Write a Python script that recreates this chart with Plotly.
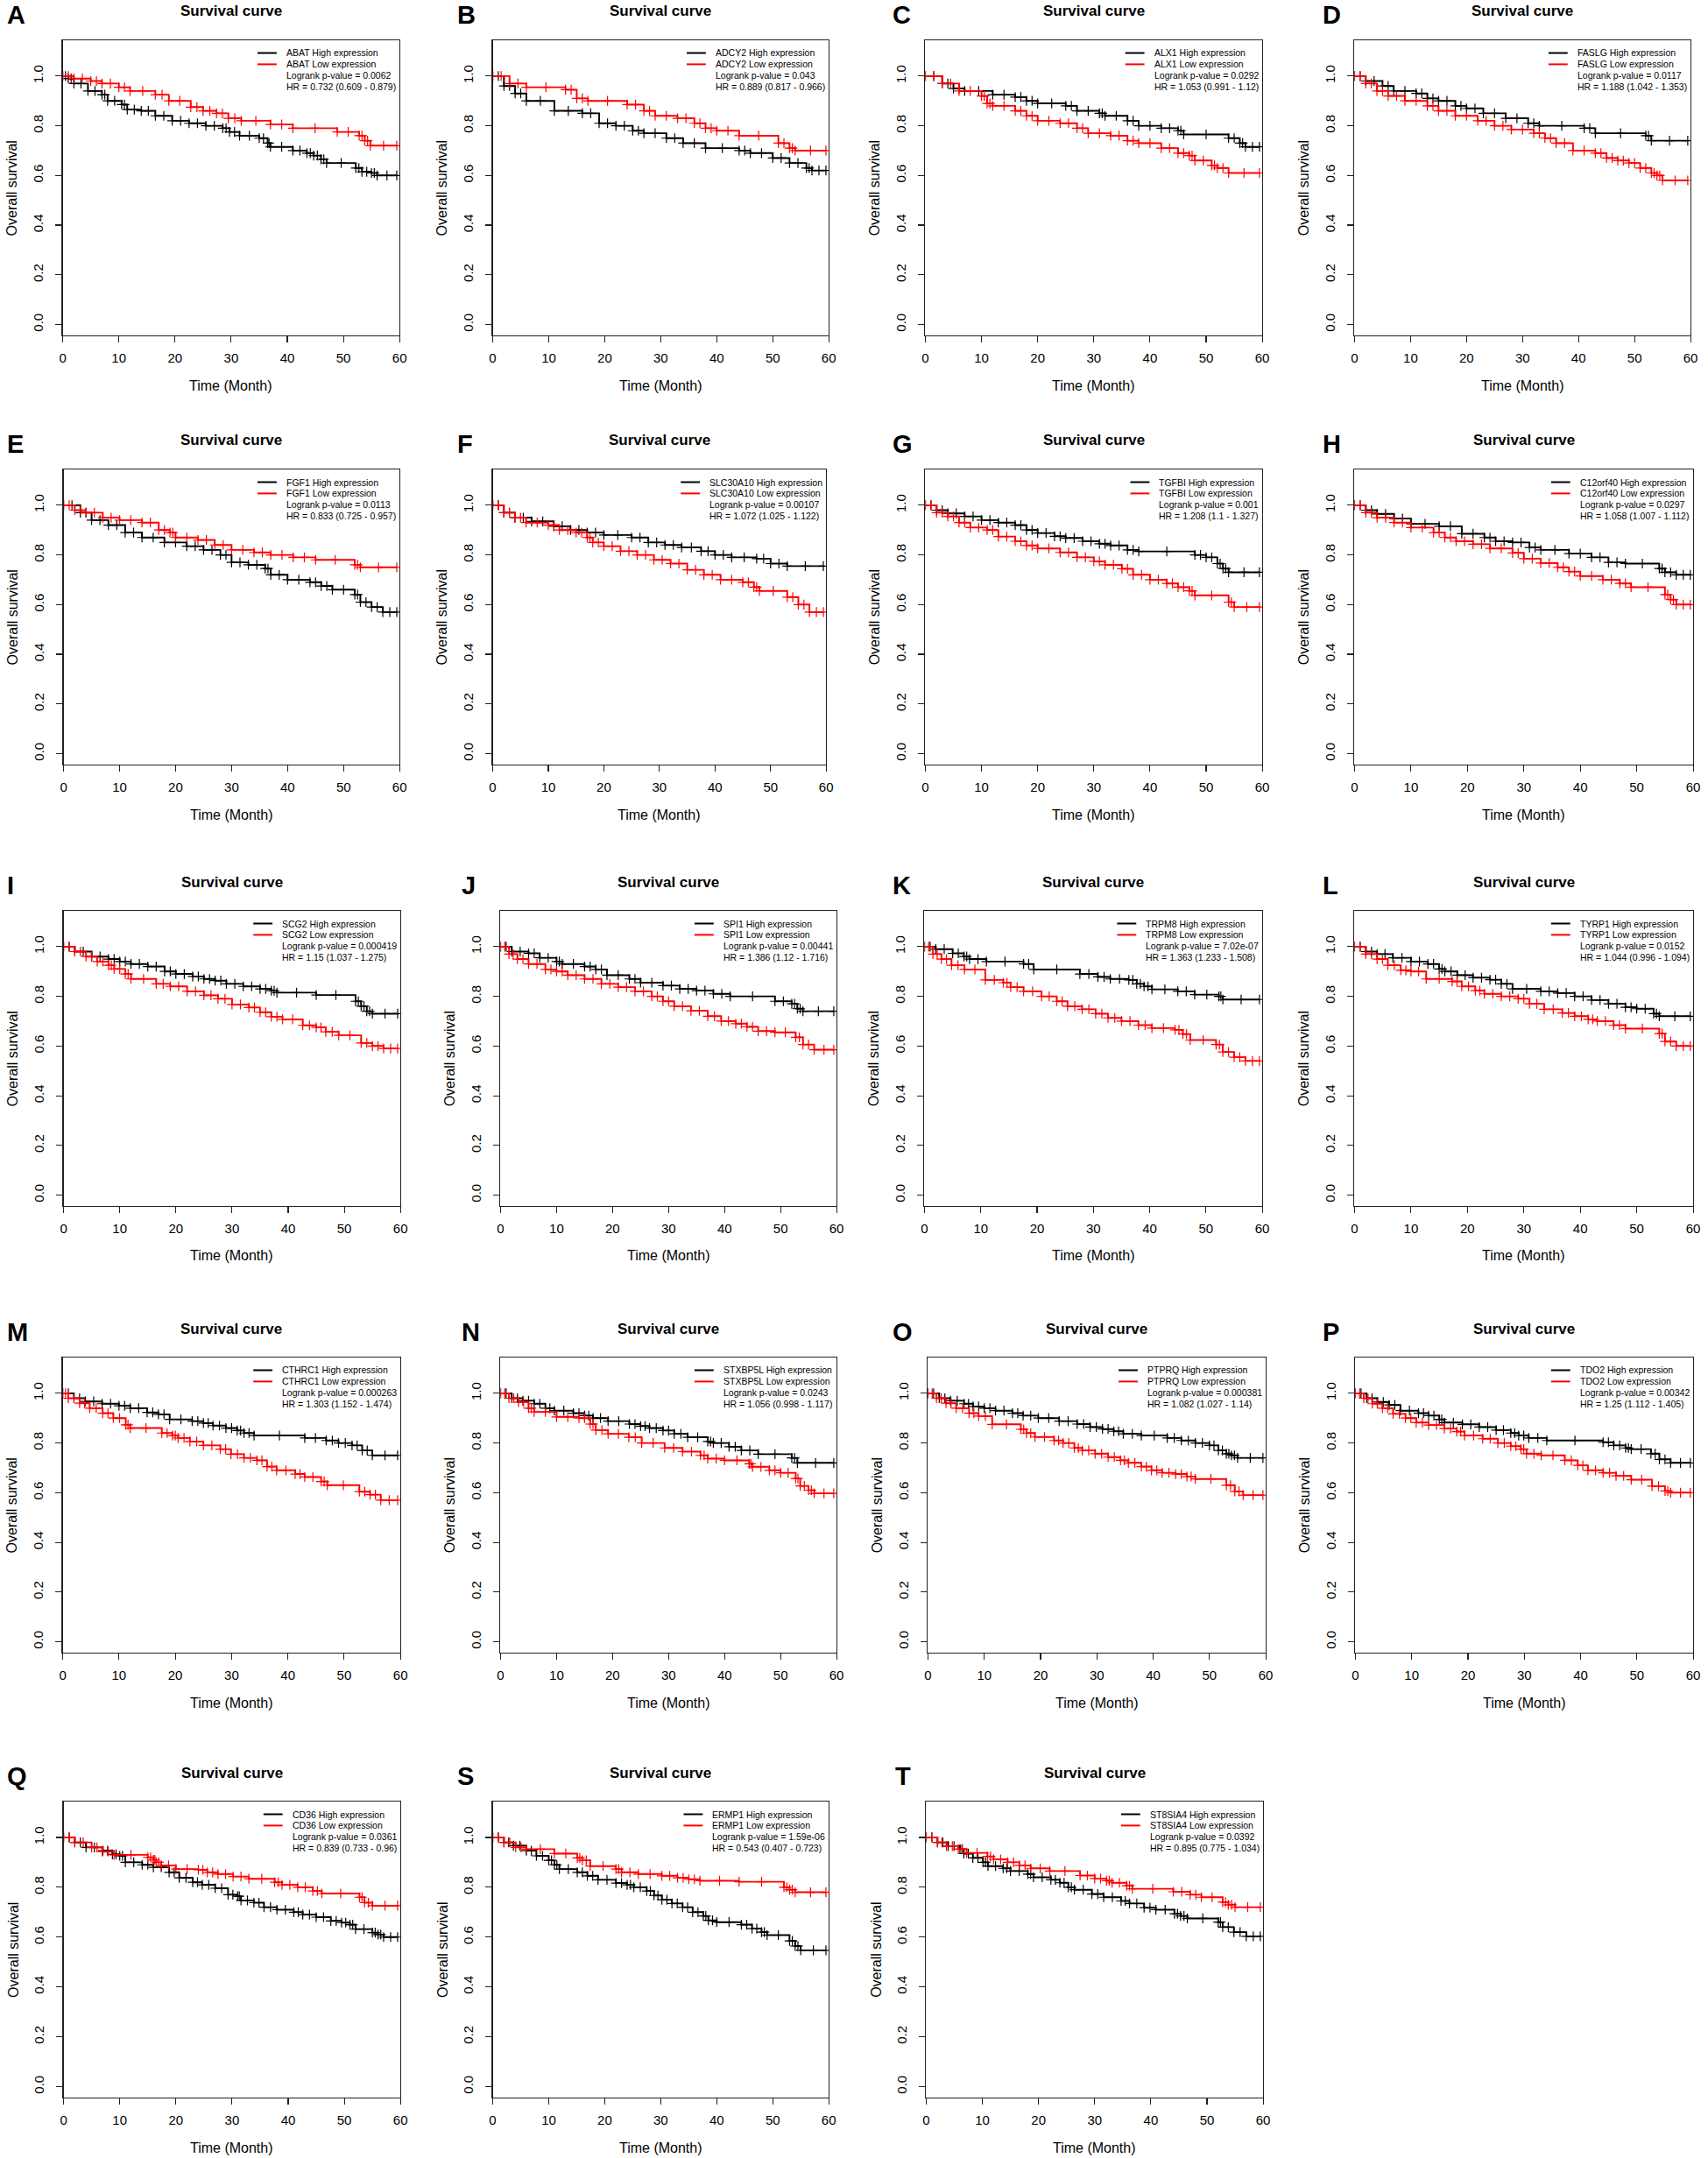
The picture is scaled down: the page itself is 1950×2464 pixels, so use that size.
import plotly.graph_objects as go

W, H = 1950, 2464

# ---------------- data ----------------
letters = ["A", "B", "C", "D", "E", "F", "G", "H", "I", "J", "K", "L",
           "M", "N", "O", "P", "Q", "S", "T"]
genes = ["ABAT", "ADCY2", "ALX1", "FASLG", "FGF1", "SLC30A10", "TGFBI", "C12orf40",
         "SCG2", "SPI1", "TRPM8", "TYRP1", "CTHRC1", "STXBP5L", "PTPRQ", "TDO2",
         "CD36", "ERMP1", "ST8SIA4"]
pvalues = ["0.0062", "0.043", "0.0292", "0.0117", "0.0113", "0.00107", "0.001", "0.0297",
           "0.000419", "0.00441", "7.02e-07", "0.0152", "0.000263", "0.0243", "0.000381",
           "0.00342", "0.0361", "1.59e-06", "0.0392"]
hrs = ["0.732 (0.609 - 0.879)", "0.889 (0.817 - 0.966)", "1.053 (0.991 - 1.12)",
       "1.188 (1.042 - 1.353)", "0.833 (0.725 - 0.957)", "1.072 (1.025 - 1.122)",
       "1.208 (1.1 - 1.327)", "1.058 (1.007 - 1.112)", "1.15 (1.037 - 1.275)",
       "1.386 (1.12 - 1.716)", "1.363 (1.233 - 1.508)", "1.044 (0.996 - 1.094)",
       "1.303 (1.152 - 1.474)", "1.056 (0.998 - 1.117)", "1.082 (1.027 - 1.14)",
       "1.25 (1.112 - 1.405)", "0.839 (0.733 - 0.96)", "0.543 (0.407 - 0.723)",
       "0.895 (0.775 - 1.034)"]

x_ticks = [0, 10, 20, 30, 40, 50, 60]
y_ticks = [0.0, 0.2, 0.4, 0.6, 0.8, 1.0]
y_ticktext = ["0.0", "0.2", "0.4", "0.6", "0.8", "1.0"]

# (time in months, survival) step knots
ABAT_high = [(0,1.0),(1,0.99),(2,0.97),(4.5,0.94),(7,0.925),(8,0.90),(10.5,0.885),(11.5,0.865),(14,0.86),(16.5,0.84),(19.5,0.82),(22.5,0.81),(25.5,0.80),(28.5,0.79),(29.7,0.775),(31.5,0.76),(35,0.75),(36.5,0.73),(37,0.715),(41,0.70),(43.5,0.69),(44.7,0.68),(46,0.665),(47,0.65),(52.2,0.63),(53.3,0.615),(55,0.61),(56,0.60),(59.5,0.60)]
ABAT_low = [(0,1.0),(2,0.99),(5,0.98),(7,0.97),(10,0.955),(12,0.94),(16.5,0.925),(18.9,0.90),(22.8,0.875),(25,0.86),(27.4,0.85),(29.5,0.83),(31.8,0.82),(37,0.805),(41,0.79),(48.9,0.775),(52.8,0.76),(53.8,0.74),(54.8,0.72),(59.5,0.72)]
ADCY2_high = [(0,1.0),(2,0.96),(4,0.93),(6,0.90),(11,0.86),(16,0.85),(19,0.81),(22,0.80),(25,0.78),(27,0.77),(31,0.75),(34,0.73),(38,0.71),(44,0.70),(46,0.69),(50,0.67),(53,0.65),(56,0.63),(57,0.62),(59.5,0.62)]
ADCY2_low = [(0,1.0),(3,0.97),(6,0.955),(13,0.945),(15,0.91),(17,0.90),(24,0.885),(27,0.86),(29,0.84),(33,0.83),(36,0.81),(38,0.79),(40,0.78),(44,0.76),(51,0.73),(53,0.71),(54,0.70),(59.5,0.70)]
ALX1_high = [(0,1.0),(3,0.97),(5,0.95),(7,0.94),(12,0.925),(16,0.915),(18,0.90),(20,0.89),(25,0.88),(27,0.86),(31,0.85),(32,0.84),(36,0.82),(38,0.80),(42,0.79),(45,0.78),(46,0.765),(54,0.75),(56,0.73),(57,0.715),(59.5,0.715)]
ALX1_low = [(0,1.0),(3,0.97),(6,0.94),(10,0.92),(11,0.89),(12,0.88),(16,0.86),(18,0.84),(20,0.82),(24,0.81),(27,0.79),(29,0.77),(33,0.76),(36,0.74),(38,0.73),(42,0.71),(45,0.69),(47,0.68),(48,0.66),(51,0.64),(52,0.63),(54,0.61),(59.5,0.61)]
FASLG_high = [(0,1.0),(2,0.98),(5,0.96),(7,0.94),(11,0.93),(13,0.91),(15,0.90),(18,0.88),(20,0.87),(23,0.85),(27,0.83),(31,0.81),(33,0.80),(41,0.79),(43,0.77),(52,0.76),(53,0.74),(59.5,0.74)]
FASLG_low = [(0,1.0),(2,0.97),(4,0.94),(6,0.92),(9,0.90),(13,0.88),(15,0.86),(18,0.84),(22,0.82),(25,0.80),(28,0.785),(32,0.77),(34,0.75),(36,0.73),(39,0.70),(43,0.69),(45,0.67),(47,0.66),(49,0.65),(51,0.63),(53,0.61),(54,0.60),(55,0.58),(59.5,0.58)]
FGF1_high = [(0,1.0),(3,0.97),(5,0.94),(8,0.92),(11,0.89),(14,0.87),(18,0.85),(22,0.835),(25,0.82),(28,0.80),(30,0.77),(33,0.76),(36,0.745),(37,0.72),(40,0.70),(44,0.69),(46,0.675),(48,0.66),(52,0.64),(53,0.61),(55,0.59),(57,0.57),(59.5,0.57)]
FGF1_low = [(0,1.0),(2,0.98),(4,0.97),(7,0.95),(10,0.94),(14,0.93),(17,0.90),(19,0.89),(20,0.87),(24,0.86),(27,0.84),(30,0.82),(34,0.81),(37,0.80),(41,0.79),(45,0.78),(52,0.76),(53,0.75),(59.5,0.75)]
SLC30A10_high = [(0,1.0),(2,0.97),(4,0.95),(7,0.935),(11,0.915),(14,0.90),(17,0.89),(20,0.88),(25,0.87),(28,0.85),(31,0.84),(34,0.83),(37.5,0.815),(40,0.80),(43,0.79),(47.5,0.785),(50,0.765),(53,0.755),(59.5,0.755)]
SLC30A10_low = [(0,1.0),(2,0.97),(4,0.95),(6,0.93),(10,0.92),(12,0.90),(15,0.89),(17,0.87),(18,0.85),(20,0.835),(23,0.815),(26,0.80),(29,0.78),(32,0.765),(35,0.74),(38,0.72),(41,0.70),(45,0.69),(47,0.67),(48,0.655),(53,0.63),(55,0.60),(57,0.57),(59.5,0.57)]
TGFBI_high = [(0,1.0),(2,0.98),(4,0.967),(7,0.955),(10,0.94),(13,0.93),(16,0.92),(18,0.90),(20,0.888),(23,0.875),(25,0.868),(28,0.855),(31,0.845),(33,0.838),(36,0.82),(38,0.814),(48,0.80),(50,0.79),(52,0.765),(53,0.745),(54,0.73),(59.5,0.73)]
TGFBI_low = [(0,1.0),(2,0.97),(4,0.955),(6,0.93),(8,0.91),(11,0.90),(13,0.874),(16,0.855),(18,0.838),(20,0.826),(24,0.81),(27,0.79),(30,0.774),(32,0.76),(35,0.744),(37,0.72),(40,0.70),(43,0.685),(45,0.67),(47,0.655),(48,0.637),(54,0.61),(55,0.59),(59.5,0.59)]
C12orf40_high = [(0,1.0),(2,0.98),(4,0.965),(7,0.946),(10,0.925),(15,0.915),(19,0.885),(23,0.87),(25,0.855),(28,0.85),(31,0.83),(33,0.82),(38,0.805),(42,0.79),(45,0.77),(48,0.765),(54,0.745),(55,0.73),(57,0.72),(59.5,0.72)]
C12orf40_low = [(0,1.0),(2,0.97),(4,0.95),(7,0.93),(10,0.91),(14,0.89),(16,0.87),(18,0.855),(21,0.843),(24,0.826),(28,0.808),(30,0.785),(33,0.767),(36,0.75),(38,0.733),(40,0.715),(44,0.70),(47,0.685),(49,0.67),(55,0.64),(56,0.62),(57,0.60),(59.5,0.60)]
SCG2_high = [(0,1.0),(2,0.98),(5,0.96),(8,0.95),(10,0.94),(12,0.93),(15,0.92),(18,0.90),(20,0.89),(23,0.88),(25,0.87),(27,0.863),(29,0.85),(32,0.84),(35,0.83),(37,0.823),(38,0.815),(45,0.805),(52,0.78),(53,0.76),(54,0.74),(55,0.73),(59.5,0.73)]
SCG2_low = [(0,1.0),(2,0.98),(4,0.96),(6,0.94),(8,0.925),(9,0.91),(11,0.89),(12,0.87),(16.5,0.85),(19,0.84),(22,0.82),(25,0.804),(27.5,0.79),(30,0.767),(33,0.755),(35,0.736),(37,0.718),(39,0.707),(42.6,0.683),(45,0.675),(46.7,0.657),(49,0.643),(53,0.612),(55,0.60),(57,0.59),(59.5,0.59)]
SPI1_high = [(0,1.0),(2,0.98),(5,0.973),(7,0.955),(10,0.94),(11,0.93),(15,0.92),(17,0.908),(19,0.885),(23,0.87),(25,0.855),(29,0.843),(32,0.83),(35,0.823),(38,0.81),(41,0.80),(49,0.78),(52,0.77),(53,0.75),(54,0.74),(59.5,0.74)]
SPI1_low = [(0,1.0),(1.5,0.97),(3,0.95),(5,0.93),(8,0.908),(10,0.90),(12,0.885),(15,0.87),(18,0.85),(21,0.837),(24,0.82),(27,0.80),(29,0.78),(31,0.76),(34,0.742),(37,0.72),(39.4,0.70),(42,0.69),(44,0.677),(46,0.66),(49,0.655),(52.7,0.635),(54,0.606),(56,0.585),(59.5,0.585)]
TRPM8_high = [(0,1.0),(2,0.99),(5,0.973),(7,0.96),(8,0.95),(11,0.94),(17.6,0.93),(19.4,0.908),(27.6,0.89),(30.8,0.878),(33,0.87),(36.3,0.866),(37.7,0.85),(39,0.84),(40.4,0.828),(45,0.82),(48,0.807),(52.3,0.80),(53,0.787),(59.5,0.787)]
TRPM8_low = [(0,1.0),(1.5,0.97),(3,0.95),(4.8,0.925),(7.1,0.908),(10.8,0.866),(14,0.855),(15.3,0.837),(17.6,0.82),(20.8,0.80),(23.5,0.78),(25.4,0.76),(28,0.748),(30.4,0.73),(32.6,0.713),(35,0.70),(38,0.684),(40.4,0.672),(44.5,0.665),(45.9,0.648),(47.2,0.624),(51.8,0.606),(53,0.576),(55,0.555),(57,0.54),(59.5,0.54)]
TYRP1_high = [(0,1.0),(2,0.98),(4,0.97),(6.8,0.955),(10,0.94),(13,0.93),(15,0.91),(16,0.90),(18.2,0.885),(21,0.875),(24,0.867),(26,0.85),(28,0.83),(33,0.82),(36,0.813),(39,0.80),(42,0.785),(45,0.77),(48,0.756),(50,0.75),(53,0.73),(54,0.72),(59.5,0.72)]
TYRP1_low = [(0,1.0),(2,0.97),(4,0.95),(5.9,0.925),(8.2,0.905),(10,0.90),(12.7,0.87),(17.3,0.86),(19,0.84),(21.4,0.823),(23,0.81),(26,0.80),(29,0.79),(31,0.77),(33.6,0.748),(36.8,0.733),(39,0.72),(41.4,0.707),(43,0.70),(45.9,0.684),(48,0.67),(54,0.65),(55,0.618),(57,0.60),(59.5,0.60)]
CTHRC1_high = [(0,1.0),(2,0.98),(4,0.967),(7,0.958),(10,0.95),(12,0.94),(15,0.923),(17,0.915),(19,0.895),(23,0.888),(25,0.88),(26.7,0.87),(29,0.86),(31,0.85),(32.2,0.84),(34,0.83),(43,0.82),(46.8,0.81),(49,0.80),(51.4,0.79),(53.2,0.77),(55,0.75),(59.5,0.75)]
CTHRC1_low = [(0,1.0),(1,0.98),(3,0.96),(4.8,0.94),(7.1,0.92),(9,0.90),(11.2,0.873),(12,0.86),(17.6,0.84),(19.5,0.83),(20.5,0.82),(22.6,0.806),(25,0.79),(28,0.775),(29.9,0.755),(32.2,0.74),(34.5,0.73),(36.3,0.705),(38,0.69),(41.3,0.675),(43,0.663),(45.9,0.645),(47,0.63),(52.7,0.604),(54.6,0.592),(56.5,0.57),(59.5,0.57)]
STXBP5L_high = [(0,1.0),(2,0.98),(4,0.97),(6,0.958),(8,0.94),(9.6,0.93),(13,0.92),(15,0.91),(16.5,0.90),(19.2,0.888),(23,0.876),(25,0.868),(26.6,0.86),(29,0.85),(31,0.837),(33.4,0.823),(37,0.806),(38,0.80),(40.8,0.785),(43,0.77),(46,0.755),(52,0.74),(53,0.72),(59.5,0.72)]
STXBP5L_low = [(0,1.0),(1.5,0.98),(3.2,0.965),(5,0.94),(6,0.925),(10,0.905),(14,0.90),(16,0.876),(17,0.852),(19.2,0.837),(22.9,0.823),(25.2,0.80),(29.3,0.78),(32.5,0.765),(35.7,0.75),(37,0.737),(40,0.73),(44.4,0.716),(45,0.704),(48,0.69),(50,0.68),(52.7,0.657),(53.5,0.627),(55,0.61),(56,0.597),(59.5,0.597)]
PTPRQ_high = [(0,1.0),(2,0.98),(4,0.97),(6.4,0.958),(8,0.947),(10,0.94),(12,0.93),(15,0.92),(16.9,0.91),(19.6,0.90),(23.3,0.888),(26.5,0.876),(28.8,0.864),(31,0.856),(33,0.847),(34.7,0.837),(37.9,0.83),(42.5,0.82),(45,0.81),(47.5,0.80),(50,0.79),(51.6,0.77),(53,0.757),(53.9,0.75),(55,0.74),(59.5,0.74)]
PTPRQ_low = [(0,1.0),(1.5,0.98),(3.2,0.96),(5,0.94),(7.3,0.92),(9,0.908),(11.4,0.875),(16.5,0.855),(17.5,0.84),(19,0.824),(22.4,0.81),(24,0.80),(26,0.78),(27.4,0.77),(29.7,0.757),(32,0.743),(34.2,0.73),(35.6,0.72),(37.9,0.705),(39.7,0.69),(41.6,0.68),(44,0.675),(46,0.665),(47.5,0.655),(53,0.63),(54.5,0.605),(56,0.59),(59.5,0.59)]
TDO2_high = [(0,1.0),(2,0.98),(3.9,0.965),(6,0.953),(8,0.93),(11.2,0.92),(13,0.91),(14.9,0.895),(15.8,0.882),(19,0.875),(22,0.864),(25,0.852),(27.6,0.84),(29,0.83),(30.8,0.82),(34,0.81),(44,0.803),(45.9,0.79),(48,0.78),(49,0.775),(52.5,0.757),(54,0.734),(56,0.72),(59.5,0.72)]
TDO2_low = [(0,1.0),(1.5,0.98),(3,0.958),(4.8,0.94),(6.7,0.917),(8.9,0.90),(10.8,0.882),(13,0.872),(15.8,0.858),(18,0.846),(19.4,0.83),(22.6,0.817),(25.3,0.80),(27.6,0.787),(29.4,0.775),(30.4,0.757),(33,0.75),(37.2,0.73),(39.5,0.71),(41.3,0.69),(44,0.68),(46.3,0.668),(49,0.652),(52.7,0.626),(55,0.607),(56,0.60),(59.5,0.60)]
CD36_high = [(0,1.0),(2,0.98),(4,0.96),(7,0.947),(8.7,0.932),(10,0.926),(11,0.90),(14,0.89),(16,0.88),(18.8,0.86),(20.6,0.838),(23,0.82),(24.7,0.81),(27,0.796),(29.3,0.77),(31,0.764),(31.6,0.747),(33.9,0.738),(35.7,0.72),(38,0.71),(41,0.70),(42.6,0.69),(45,0.68),(47.6,0.665),(49.5,0.658),(51,0.65),(52,0.632),(55,0.618),(56,0.61),(57,0.60),(59.5,0.60)]
CD36_low = [(0,1.0),(2,0.98),(5,0.96),(6.9,0.943),(9,0.93),(15,0.92),(16,0.91),(16.5,0.90),(17.4,0.888),(20,0.873),(24,0.87),(25.6,0.86),(27.5,0.853),(30.2,0.843),(33,0.834),(37.6,0.82),(38.9,0.81),(41.7,0.80),(44.4,0.785),(46,0.775),(52.7,0.76),(53.6,0.738),(55,0.726),(59.5,0.726)]
ERMP1_high = [(0,1.0),(2,0.98),(3.7,0.967),(6,0.947),(7.8,0.926),(10,0.908),(11,0.89),(11.9,0.873),(15.1,0.86),(16.9,0.846),(18.8,0.83),(22,0.817),(24,0.81),(25.2,0.80),(27.5,0.785),(28.8,0.767),(30.2,0.75),(32,0.735),(33.9,0.72),(35.7,0.70),(37.6,0.685),(38.5,0.667),(40,0.66),(44.4,0.65),(46.3,0.634),(48,0.62),(49,0.608),(53,0.585),(54,0.564),(55,0.547),(59.5,0.547)]
ERMP1_low = [(0,1.0),(2,0.98),(4.1,0.96),(6,0.953),(11,0.935),(15.1,0.918),(16,0.908),(17.4,0.885),(22,0.873),(23,0.86),(26,0.853),(30.2,0.846),(33,0.838),(35,0.832),(37,0.826),(44,0.822),(52,0.80),(53,0.79),(54,0.78),(59.5,0.78)]
ST8SIA4_high = [(0,1.0),(2,0.98),(3.9,0.965),(6,0.953),(6.7,0.935),(8.3,0.918),(10.1,0.90),(11,0.885),(13.7,0.876),(15,0.865),(18.1,0.853),(19.1,0.84),(22.2,0.83),(23.8,0.818),(25.3,0.80),(26.4,0.79),(29.5,0.773),(31.6,0.76),(34.7,0.745),(36.2,0.735),(38.8,0.718),(40.9,0.71),(44.2,0.694),(45.3,0.685),(46.5,0.675),(52,0.66),(52.8,0.64),(54.8,0.62),(57,0.603),(59.5,0.603)]
ST8SIA4_low = [(0,1.0),(2,0.98),(3.6,0.965),(5.7,0.953),(7.2,0.938),(10.9,0.924),(12,0.912),(14.5,0.90),(16.6,0.888),(18.6,0.876),(22,0.865),(27.4,0.847),(30,0.835),(32.1,0.826),(33.1,0.818),(35.7,0.806),(36.7,0.794),(44,0.782),(47,0.77),(49,0.76),(52.8,0.74),(53.8,0.73),(55,0.72),(59.5,0.72)]

high_curves = [ABAT_high, ADCY2_high, ALX1_high, FASLG_high, FGF1_high, SLC30A10_high,
               TGFBI_high, C12orf40_high, SCG2_high, SPI1_high, TRPM8_high, TYRP1_high,
               CTHRC1_high, STXBP5L_high, PTPRQ_high, TDO2_high, CD36_high, ERMP1_high,
               ST8SIA4_high]
low_curves = [ABAT_low, ADCY2_low, ALX1_low, FASLG_low, FGF1_low, SLC30A10_low,
              TGFBI_low, C12orf40_low, SCG2_low, SPI1_low, TRPM8_low, TYRP1_low,
              CTHRC1_low, STXBP5L_low, PTPRQ_low, TDO2_low, CD36_low, ERMP1_low,
              ST8SIA4_low]

# ---------------- layout (pixel boxes of each plot region) ----------------
box_x = [(68, 455), (562, 948), (1059, 1446), (1552, 1938),
         (69, 455), (562, 945), (1059, 1446), (1552, 1941),
         (69, 456), (571, 957), (1058, 1446), (1552, 1941),
         (68, 456), (571, 957), (1062, 1450), (1553, 1941),
         (69, 456), (562, 948), (1060, 1447)]
row_y = [(46, 383), (536, 873), (1040, 1377), (1550, 1887), (2057, 2395)]
letter_x = [2, 519, 1019, 1513, 2, 519, 1019, 1513, 2, 524, 1019, 1513,
            2, 524, 1019, 1513, 2, 519, 1022]

FONT = "Liberation Sans, Arial, Helvetica, sans-serif"
BLACK = "#000000"
RED = "#FF0000"
LEG_SIZE = 10.5

AW = {' ': 278, '(': 333, ')': 333, '-': 333, '.': 278, '=': 584, 'e': 556,
      'A': 667, 'B': 667, 'C': 722, 'D': 722, 'E': 667, 'F': 611, 'G': 778, 'H': 722,
      'I': 278, 'J': 500, 'K': 667, 'L': 556, 'M': 833, 'N': 722, 'O': 778, 'P': 667,
      'Q': 778, 'R': 722, 'S': 667, 'T': 611, 'U': 722, 'V': 667, 'W': 944, 'X': 667,
      'Y': 667, 'Z': 611, 'a': 556, 'b': 556, 'c': 500, 'd': 556, 'f': 278, 'g': 556,
      'h': 556, 'i': 222, 'j': 222, 'k': 500, 'l': 222, 'm': 833, 'n': 556, 'o': 556,
      'p': 556, 'q': 556, 'r': 333, 's': 500, 't': 278, 'u': 556, 'v': 500, 'w': 722,
      'x': 500, 'y': 500, 'z': 500}


def text_w(s, size):
    return sum(AW.get(ch, 556) for ch in s) / 1000.0 * size


def px(x):
    return x / W


def py(y):
    return 1 - y / H


def step_xy(curve):
    return [p[0] for p in curve], [p[1] for p in curve]


def censor_xy(curve):
    xs, ys = [], []
    for i in range(len(curve) - 1):
        t0, s0 = curve[i]
        t1 = curve[i + 1][0]
        xs += [t0, (t0 + t1) / 2]
        ys += [s0, s0]
    xs.append(curve[-1][0])
    ys.append(curve[-1][1])
    return xs, ys


fig = go.Figure()
annotations = []
shapes = []
layout_axes = {}

for k in range(len(genes)):
    n = k + 1
    r = k // 4
    xl, xr = box_x[k]
    yt, yb = row_y[r]
    xname = "x" if n == 1 else f"x{n}"
    yname = "y" if n == 1 else f"y{n}"

    for curve, col in ((high_curves[k], BLACK), (low_curves[k], RED)):
        sx, sy = step_xy(curve)
        fig.add_trace(go.Scatter(x=sx, y=sy, mode="lines", line=dict(color=col, width=1.9, shape="hv"),
                                 xaxis=xname, yaxis=yname, hoverinfo="skip", showlegend=False))
        cx, cy = censor_xy(curve)
        fig.add_trace(go.Scatter(x=cx, y=cy, mode="markers",
                                 marker=dict(symbol="cross-thin", size=8, color=col,
                                             line=dict(width=1.2, color=col)),
                                 xaxis=xname, yaxis=yname, hoverinfo="skip", showlegend=False))

    axis_common = dict(showgrid=False, zeroline=False, showline=True, linecolor="#222222",
                       linewidth=1.2, mirror=True, ticks="outside", ticklen=7, tickwidth=1.1,
                       tickcolor="#222222", tickfont=dict(family=FONT, size=15, color=BLACK))
    layout_axes["xaxis" if n == 1 else f"xaxis{n}"] = dict(
        domain=[px(xl), px(xr)], anchor=yname, range=[0, 60],
        tickvals=x_ticks, ticklabelstandoff=5, **axis_common)
    layout_axes["yaxis" if n == 1 else f"yaxis{n}"] = dict(
        domain=[py(yb), py(yt)], anchor=xname, range=[-0.044, 1.144],
        tickvals=y_ticks, ticktext=y_ticktext, tickangle=-90, ticklabelstandoff=8, **axis_common)

    cxm = (xl + xr) / 2
    cym = (yt + yb) / 2
    # panel letter
    annotations.append(dict(text=f"<b>{letters[k]}</b>", x=px(letter_x[k]), y=py(yt - 29),
                            xref="paper", yref="paper", xanchor="left", yanchor="middle",
                            showarrow=False, font=dict(family=FONT, size=29, color=BLACK)))
    # title
    annotations.append(dict(text="<b>Survival curve</b>", x=px(cxm), y=py(yt - 33),
                            xref="paper", yref="paper", xanchor="center", yanchor="middle",
                            showarrow=False, font=dict(family=FONT, size=17, color=BLACK)))
    # axis titles
    annotations.append(dict(text="Time (Month)", x=px(cxm), y=py(yb + 57), xref="paper", yref="paper",
                            xanchor="center", yanchor="middle", showarrow=False,
                            font=dict(family=FONT, size=16, color=BLACK)))
    annotations.append(dict(text="Overall survival", x=px(xl - 58), y=py(cym), xref="paper", yref="paper",
                            xanchor="center", yanchor="middle", showarrow=False, textangle=-90,
                            font=dict(family=FONT, size=16, color=BLACK)))
    # legend
    lines = [f"{genes[k]} High expression", f"{genes[k]} Low expression",
             f"Logrank p-value = {pvalues[k]}", f"HR = {hrs[k]}"]
    maxw = max(text_w(s, LEG_SIZE) for s in lines)
    lx = xr - 7 - maxw
    for j, s in enumerate(lines):
        ly = yt + 14.5 + 12.9 * j
        annotations.append(dict(text=s, x=px(lx), y=py(ly), xref="paper", yref="paper",
                                xanchor="left", yanchor="middle", showarrow=False,
                                font=dict(family=FONT, size=LEG_SIZE, color=BLACK)))
        if j < 2:
            shapes.append(dict(type="line", xref="paper", yref="paper",
                               x0=px(lx - 31), x1=px(lx - 9), y0=py(ly), y1=py(ly),
                               line=dict(color=BLACK if j == 0 else RED, width=2)))

fig.update_layout(width=W, height=H, margin=dict(l=0, r=0, t=0, b=0),
                  paper_bgcolor="white", plot_bgcolor="white", showlegend=False,
                  annotations=annotations, shapes=shapes, **layout_axes)

fig.write_html("out.html",
               config={"displayModeBar": False, "staticPlot": True},
               post_script="document.body.style.margin='0px';"
                           "document.documentElement.style.overflow='hidden';"
                           "document.body.style.overflow='hidden';")
